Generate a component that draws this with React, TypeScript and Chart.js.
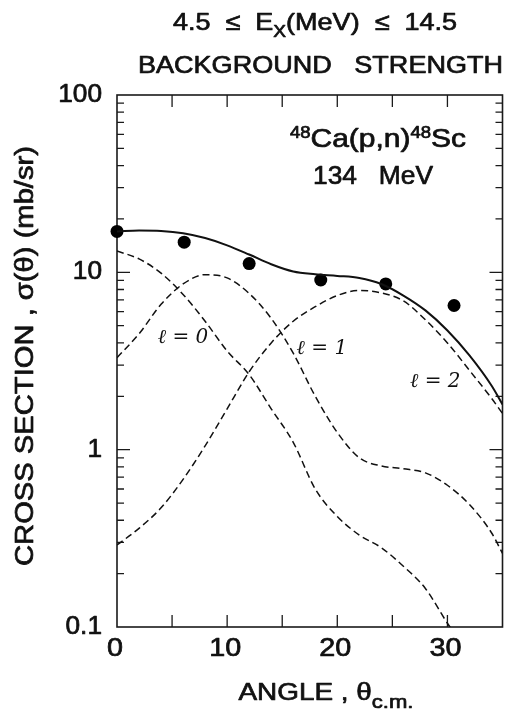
import React, { useEffect, useRef } from "react";
import { Chart, registerables } from "chart.js";

Chart.register(...registerables);

const W = 509;
const H = 711;

// Measured angular distribution: c.m. angle (deg) and cross section (mb/sr)
const dataAngles = [0, 6.1, 12.0, 18.5, 24.4, 30.6];
const dataSigma = [17.0, 14.8, 11.2, 9.05, 8.6, 6.5];

// Calculated curves
const curveAngles = [0, 2, 4, 6, 8, 10, 12, 14, 16, 18, 20, 22, 24, 26, 28, 30, 32, 34, 35];
const sumCurve = [17.0, 17.2, 17.1, 16.6, 15.6, 14.2, 12.6, 11.1, 10.1, 9.75, 9.55, 9.3, 8.6, 7.4, 6.1, 4.7, 3.4, 2.3, 1.8];
const l1Curve = [3.3, 4.5, 6.6, 8.6, 9.7, 9.3, 7.6, 5.5, 3.5, 2.0, 1.25, 0.9, 0.81, 0.78, 0.74, 0.63, 0.49, 0.34, 0.26];
const l2Curve = [0.29, 0.36, 0.47, 0.68, 1.05, 1.7, 2.75, 4.0, 5.3, 6.4, 7.4, 7.9, 7.65, 6.9, 5.4, 4.0, 2.8, 1.95, 1.6];

const l0Angles = [0, 2, 4, 6, 8, 10, 12, 14, 16, 18, 20, 22, 24, 26, 28, 30, 31];
const l0Curve = [13.2, 11.9, 9.9, 7.5, 5.3, 3.6, 2.65, 1.7, 1.1, 0.6, 0.42, 0.33, 0.28, 0.22, 0.165, 0.105, 0.086];

// Axis ticks
const xTickValues = [0, 10, 20, 30];
const xTickLabels = ["0", "10", "20", "30"];
const xMarkValues = [5, 10, 15, 20, 25, 30];
const yTickValues = [0.1, 1, 10, 100];
const yTickLabels = ["0.1", "1", "10", "100"];

// Curve labels (angle, cross section)
const curveLabels = [
  { text: "ℓ = 0", x: 6.0, y: 4.25 },
  { text: "ℓ = 1", x: 18.6, y: 3.7 },
  { text: "ℓ = 2", x: 28.9, y: 2.4 },
];

const INK = "#111";
const SANS = "'Liberation Sans', Arial, Helvetica, sans-serif";

type Run = { t: string; size: number; dy?: number };

function runsWidth(ctx: CanvasRenderingContext2D, runs: Run[]) {
  let w = 0;
  for (const r of runs) {
    ctx.font = `${r.size}px ${SANS}`;
    w += ctx.measureText(r.t).width;
  }
  return w;
}

// Draws a row of text runs centred on cx, stretched horizontally to the given width
function drawRuns(
  ctx: CanvasRenderingContext2D,
  runs: Run[],
  cx: number,
  baseline: number,
  width: number,
  rotate = false
) {
  const natural = runsWidth(ctx, runs);
  const sx = width / natural;
  ctx.save();
  ctx.translate(cx, baseline);
  if (rotate) ctx.rotate(-Math.PI / 2);
  ctx.scale(sx, 1);
  ctx.fillStyle = INK;
  ctx.strokeStyle = INK;
  ctx.lineWidth = 0.7;
  ctx.lineJoin = "round";
  ctx.textBaseline = "alphabetic";
  ctx.textAlign = "left";
  let x = -natural / 2;
  for (const r of runs) {
    ctx.font = `${r.size}px ${SANS}`;
    ctx.fillText(r.t, x, r.dy || 0);
    ctx.strokeText(r.t, x, r.dy || 0);
    x += ctx.measureText(r.t).width;
  }
  ctx.restore();
}

const framePlugin = {
  id: "frame",
  beforeDatasetsDraw(chart: any) {
    const { ctx, chartArea: a, scales } = chart;
    const xs = scales.x;
    const ys = scales.y;
    ctx.save();
    ctx.strokeStyle = "#1a1a1a";
    ctx.lineWidth = 1.6;
    ctx.strokeRect(a.left, a.top, a.right - a.left, a.bottom - a.top);

    ctx.lineWidth = 1.3;
    ctx.beginPath();
    for (const v of xMarkValues) {
      const px = xs.getPixelForValue(v);
      ctx.moveTo(px, a.bottom);
      ctx.lineTo(px, a.bottom - 12);
      ctx.moveTo(px, a.top);
      ctx.lineTo(px, a.top + 12);
    }
    for (let d = -1; d <= 1; d++) {
      for (let k = 1; k <= 9; k++) {
        const v = k * Math.pow(10, d);
        if (v <= 0.1) continue;
        const py = ys.getPixelForValue(v);
        const len = k === 1 ? 13 : 7;
        ctx.moveTo(a.left, py);
        ctx.lineTo(a.left + len, py);
        ctx.moveTo(a.right, py);
        ctx.lineTo(a.right - len, py);
      }
    }
    ctx.stroke();
    ctx.restore();
  },
  afterDraw(chart: any) {
    const { ctx, scales } = chart;
    const xs = scales.x;
    const ys = scales.y;

    // tick labels
    yTickValues.forEach((v, i) => {
      const py = ys.getPixelForValue(v);
      const label = yTickLabels[i];
      ctx.font = `25px ${SANS}`;
      const w = ctx.measureText(label).width * 1.05;
      drawRuns(ctx, [{ t: label, size: 25 }], 102 - w / 2, py + 7, w);
    });

    xTickValues.forEach((v, i) => {
      const px = xs.getPixelForValue(v) - 2;
      const label = xTickLabels[i];
      ctx.font = `25px ${SANS}`;
      const w = ctx.measureText(label).width * 1.15;
      drawRuns(ctx, [{ t: label, size: 25 }], px, 656, w);
    });

    // curve labels
    ctx.save();
    ctx.fillStyle = INK;
    ctx.font = "italic 20px 'DejaVu Serif', serif";
    ctx.textAlign = "center";
    ctx.textBaseline = "middle";
    for (const l of curveLabels) {
      ctx.fillText(l.text, xs.getPixelForValue(l.x), ys.getPixelForValue(l.y));
    }
    ctx.restore();

    // headings
    drawRuns(
      ctx,
      [
        { t: "4.5  ≤  E", size: 24 },
        { t: "X", size: 17, dy: 7 },
        { t: "(MeV)  ≤  14.5", size: 24 },
      ],
      315,
      30,
      284
    );
    drawRuns(ctx, [{ t: "BACKGROUND   STRENGTH", size: 24 }], 320.5, 73, 365);

    drawRuns(
      ctx,
      [
        { t: "48", size: 16, dy: -9 },
        { t: "Ca(p,n)", size: 26 },
        { t: "48", size: 16, dy: -9 },
        { t: "Sc", size: 26 },
      ],
      378,
      147,
      176
    );
    drawRuns(ctx, [{ t: "134   MeV", size: 26 }], 373, 184, 120);

    // axis titles
    drawRuns(
      ctx,
      [
        { t: "ANGLE , θ", size: 24 },
        { t: "c.m.", size: 19, dy: 8 },
      ],
      326,
      700,
      175
    );
    drawRuns(
      ctx,
      [{ t: "CROSS SECTION , σ(θ) (mb/sr)", size: 25 }],
      33,
      356,
      420,
      true
    );
  },
};

function toPoints(xs: number[], ys: number[]) {
  return xs.map((x, i) => ({ x, y: ys[i] }));
}

export default function App() {
  const ref = useRef<HTMLCanvasElement | null>(null);

  useEffect(() => {
    if (!ref.current) return;
    const dashed = {
      borderColor: INK,
      borderWidth: 1.5,
      borderDash: [7, 4],
      pointRadius: 0,
      fill: false,
      cubicInterpolationMode: "monotone" as const,
    };
    const chart = new Chart(ref.current, {
      type: "line",
      data: {
        datasets: [
          {
            label: "ℓ = 0",
            data: toPoints(l0Angles, l0Curve),
            ...dashed,
          },
          {
            label: "ℓ = 1",
            data: toPoints(curveAngles, l1Curve),
            ...dashed,
          },
          {
            label: "ℓ = 2",
            data: toPoints(curveAngles, l2Curve),
            ...dashed,
          },
          {
            label: "sum",
            data: toPoints(curveAngles, sumCurve),
            borderColor: INK,
            borderWidth: 2,
            pointRadius: 0,
            fill: false,
            cubicInterpolationMode: "monotone",
          },
          {
            label: "data",
            data: toPoints(dataAngles, dataSigma),
            showLine: false,
            pointRadius: 6.5,
            pointBackgroundColor: "#000",
            pointBorderColor: "#000",
            pointBorderWidth: 0,
            clip: false as any,
          },
        ],
      },
      options: {
        responsive: false,
        animation: false,
        events: [],
        layout: { padding: { left: 117, right: 1, top: 95, bottom: 84 } },
        plugins: {
          legend: { display: false },
          tooltip: { enabled: false },
        },
        scales: {
          x: { type: "linear", min: 0, max: 35, display: false },
          y: { type: "logarithmic", min: 0.1, max: 100, display: false },
        },
      },
      plugins: [framePlugin],
    });
    return () => chart.destroy();
  }, []);

  return (
    <div style={{ position: "absolute", left: 0, top: 0, width: W, height: H, background: "#fff" }}>
      <canvas ref={ref} width={W} height={H} style={{ display: "block", width: W, height: H }} />
    </div>
  );
}
